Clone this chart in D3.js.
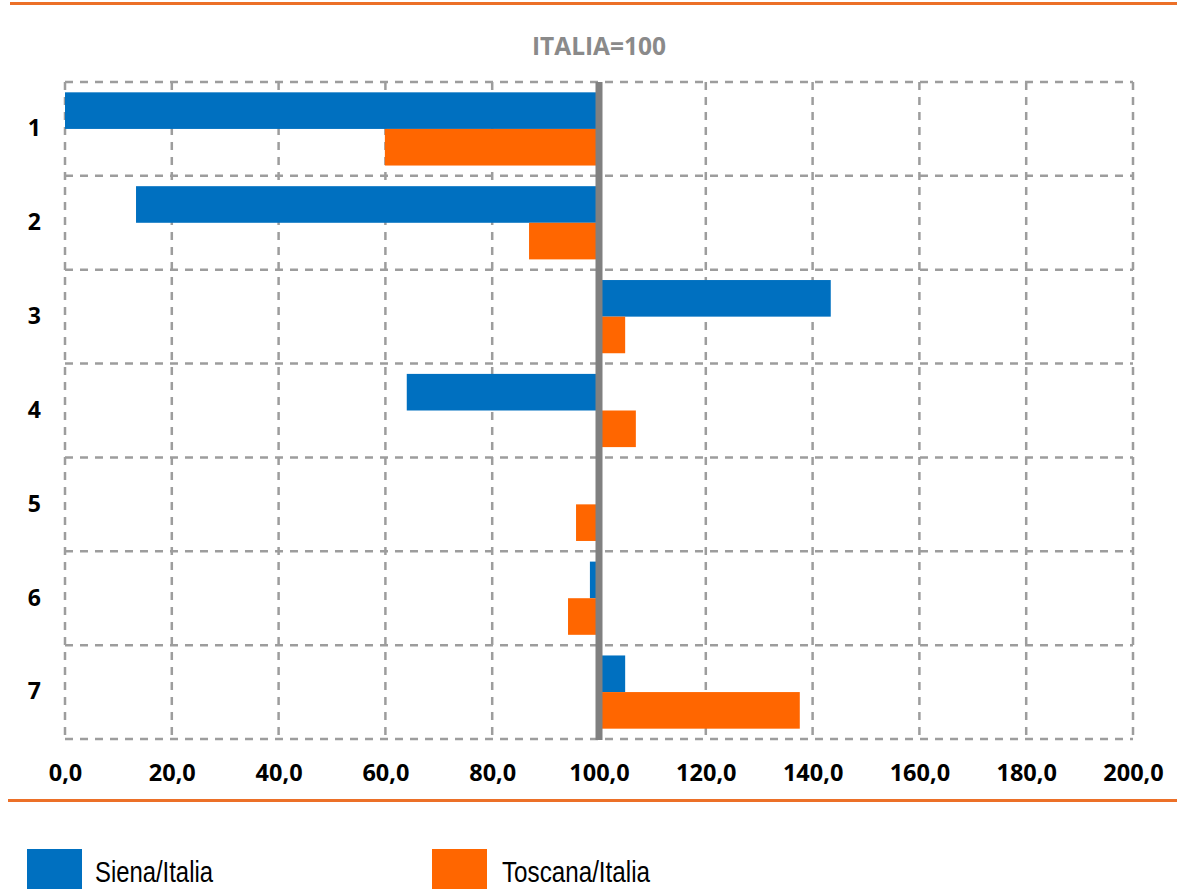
<!DOCTYPE html>
<html>
<head>
<meta charset="utf-8">
<script src="https://cdn.jsdelivr.net/npm/d3@7"></script>
<style>
  html, body { margin: 0; padding: 0; background: #ffffff; }
  svg { display: block; }
</style>
</head>
<body>
<svg id="chart" width="1177" height="889"></svg>
<script>
const categories = ["1", "2", "3", "4", "5", "6", "7"];
const seriesNames = ["Siena/Italia", "Toscana/Italia"];
const sienaValues = [0.0, 13.3, 143.4, 64.0, 100.0, 98.3, 104.9];
const toscanaValues = [59.9, 86.9, 104.9, 106.9, 95.7, 94.2, 137.6];
const xTicks = [0, 20, 40, 60, 80, 100, 120, 140, 160, 180, 200];
const titleText = "ITALIA=100";
const baseValue = 100;

const colors = { "Siena/Italia": "#0070C0", "Toscana/Italia": "#FF6600" };
const svg = d3.select("#chart");

const x = d3.scaleLinear().domain([0, 200]).range([65, 1133]);
const y = d3.scaleBand().domain(categories).range([82, 739]).paddingInner(0).paddingOuter(0);
const y1 = d3.scaleBand().domain(seriesNames).range([0, y.bandwidth()]).paddingInner(0).paddingOuter(0.282);

const fmt = v => d3.format(".1f")(v).replace(".", ",");

// decorative orange rules
const rule = "#EC7028";
svg.append("rect").attr("x", 10).attr("y", 2).attr("width", 1167).attr("height", 3).attr("fill", rule);
svg.append("rect").attr("x", 8).attr("y", 799).attr("width", 1169).attr("height", 3).attr("fill", rule);

// title
svg.append("text").attr("x", 599).attr("y", 55).attr("text-anchor", "middle")
  .attr("font-family", "'Open Sans', sans-serif").attr("font-weight", "bold")
  .attr("font-size", 24.5).attr("fill", "#8a8a8a").text(titleText);

// grid
const grid = svg.append("g").attr("stroke", "#9d9d9d").attr("stroke-width", 2.5)
  .attr("stroke-dasharray", "8,7").attr("fill", "none");
xTicks.filter(t => t !== baseValue).forEach(t => {
  grid.append("line").attr("x1", x(t)).attr("x2", x(t)).attr("y1", 82).attr("y2", 739);
});
const yLines = categories.map(c => y(c)).concat([y.range()[1]]);
yLines.forEach(v => {
  grid.append("line").attr("x1", x(0)).attr("x2", x(200)).attr("y1", v).attr("y2", v);
});

// bars
const rows = categories.map((c, i) => ({ cat: c, vals: [
  { s: seriesNames[0], v: sienaValues[i] },
  { s: seriesNames[1], v: toscanaValues[i] }
]}));
const g = svg.append("g");
rows.forEach(r => {
  r.vals.forEach(d => {
    g.append("rect")
      .attr("x", Math.min(x(baseValue), x(d.v)))
      .attr("width", Math.abs(x(d.v) - x(baseValue)))
      .attr("y", y(r.cat) + y1(d.s))
      .attr("height", y1.bandwidth())
      .attr("fill", colors[d.s]);
  });
});

// base line at 100
svg.append("line").attr("x1", x(baseValue)).attr("x2", x(baseValue))
  .attr("y1", 82).attr("y2", 740).attr("stroke", "#808080").attr("stroke-width", 7);

// x axis labels
const xAxis = d3.axisBottom(x).tickValues(xTicks).tickFormat(fmt).tickSize(0).tickPadding(0);
const xa = svg.append("g").attr("transform", "translate(0,764)").call(xAxis);
xa.select(".domain").remove();
xa.selectAll("text").attr("font-family", "'Open Sans', sans-serif").attr("font-weight", "bold")
  .attr("font-size", 23.5).attr("fill", "#000").attr("dy", "0.71em");

// y axis labels
const yAxis = d3.axisLeft(y).tickSize(0).tickPadding(0);
const ya = svg.append("g").attr("transform", "translate(41,0)").call(yAxis);
ya.select(".domain").remove();
ya.selectAll("text").attr("font-family", "'Open Sans', sans-serif").attr("font-weight", "bold")
  .attr("font-size", 23).attr("fill", "#000").attr("text-anchor", "end").attr("x", 0);

// legend
const legendPos = [
  { s: seriesNames[0], rx: 27, tx: 95, w: 118 },
  { s: seriesNames[1], rx: 432, tx: 502, w: 148 }
];
legendPos.forEach(l => {
  svg.append("rect").attr("x", l.rx).attr("y", 849).attr("width", 55).attr("height", 45).attr("fill", colors[l.s]);
  svg.append("text").attr("x", l.tx).attr("y", 882)
    .attr("font-family", "'Liberation Sans', Arial, sans-serif")
    .attr("font-size", 29).attr("fill", "#000")
    .attr("textLength", l.w).attr("lengthAdjust", "spacingAndGlyphs")
    .text(l.s);
});
</script>
</body>
</html>
